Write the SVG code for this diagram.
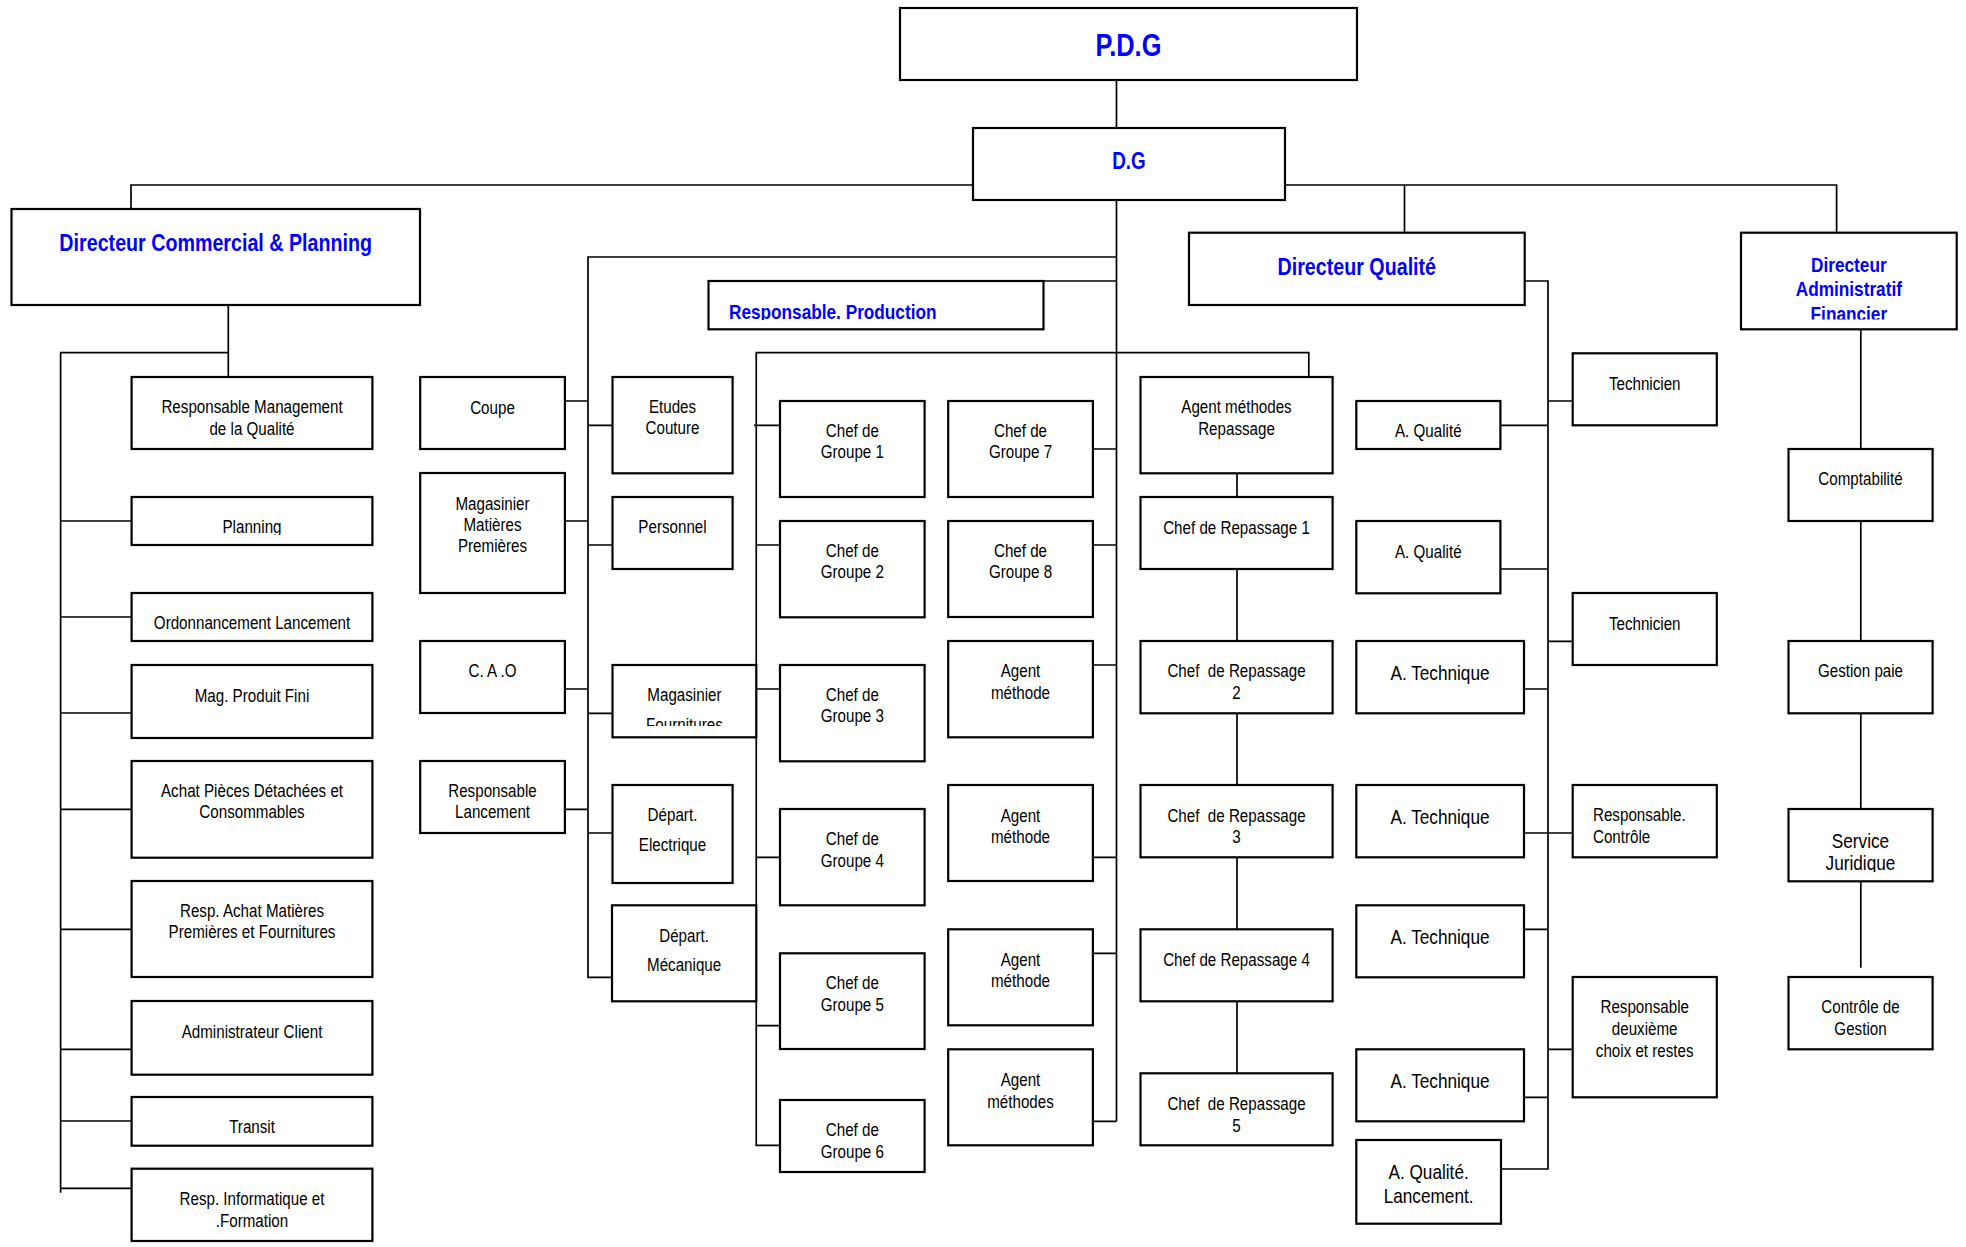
<svg xmlns="http://www.w3.org/2000/svg" width="1966" height="1247" viewBox="0 0 1966 1247">
<style>
.box{fill:#fff;stroke:#000;stroke-width:2.2}
.ln{fill:none;stroke:#000;stroke-width:1.7}
text{font-family:"Liberation Sans",Arial,sans-serif;fill:#000;font-size:18.5px;text-anchor:middle;transform:scaleX(0.82);transform-box:fill-box;transform-origin:center}
text.blue{fill:#0000ff;font-weight:bold}
text.f31{font-size:31px}
text.f23{font-size:23px}
text.f24{font-size:24px}
text.f21{font-size:21px}
text.st{text-anchor:start;transform-origin:left center}
</style>
<defs>
<clipPath id="cRP"><rect x="708" y="281" width="336" height="39"/></clipPath>
<clipPath id="cDAF"><rect x="1741" y="232" width="216" height="87.5"/></clipPath>
<clipPath id="cPlan"><rect x="131" y="497" width="242" height="38"/></clipPath>
<clipPath id="cMF"><rect x="612" y="665" width="145" height="61"/></clipPath>
<clipPath id="cSJ"><rect x="1788" y="809" width="145" height="63"/></clipPath>
</defs>
<rect width="1966" height="1247" fill="#fff"/>
<g id="connectors">
<path class="ln" d="M1116.5 80V128 M1116.5 200V1121.3"/>
<path class="ln" d="M131 209V185H973 M1285 185H1836.6V232.7 M1404.5 185V232.7"/>
<path class="ln" d="M228.3 305V377 M60.6 1192.7V352.7H228.3 M60.6 521H131.6 M60.6 617H131.6 M60.6 713H131.6 M60.6 809.3H131.6 M60.6 929.3H131.6 M60.6 1049.3H131.6 M60.6 1121H131.6 M60.6 1188.3H131.6"/>
<path class="ln" d="M1116.5 257H588V977.3H612 M564.9 401H588 M564.9 521H588 M564.9 689H588 M564.9 809.3H588 M588 425.3H612.5 M588 545H612.5 M588 713.3H612.5 M588 833H612.5"/>
<path class="ln" d="M1043.5 281H1116.5"/>
<path class="ln" d="M1308.8 377V352.7H756.25V1145.3H780 M754 425.3H780 M756.25 545H780 M756.25 689H780 M756.25 857.3H780 M756.25 1025.7H780"/>
<path class="ln" d="M1092.9 449H1116.5 M1092.9 545H1116.5 M1092.9 665H1116.5 M1092.9 857.3H1116.5 M1092.9 953.3H1116.5 M1092.9 1121.3H1116.5"/>
<path class="ln" d="M1237 473.3V497 M1237 569V641 M1237 713.3V785 M1237 857.3V929.3 M1237 1001.3V1073.3"/>
<path class="ln" d="M1524.7 281H1548V1169H1501 M1500.4 425.3H1548 M1500.4 569H1548 M1524 689H1548 M1524 833H1572.7 M1524 929.3H1548 M1524 1097.3H1548 M1548 401H1572.7 M1548 641.3H1572.7 M1548 1049.3H1572.7"/>
<path class="ln" d="M1860.8 329.3V449 M1860.8 521V641 M1860.8 713.3V809 M1860.8 881.3V967.7"/>
</g>
<g id="pdg"><rect class="box" x="900" y="8" width="457" height="72"/><text class="blue f31" x="1128.5" y="56.5">P.D.G</text></g>
<g id="dg"><rect class="box" x="973" y="128" width="312" height="72"/><text class="blue f23" x="1129" y="169.3">D.G</text></g>
<g id="dir-commercial"><rect class="box" x="11.5" y="209" width="408.5" height="96"/><text class="blue f24" x="215.7" y="250.7">Directeur Commercial &amp; Planning</text></g>
<g id="dir-qualite"><rect class="box" x="1189" y="232.7" width="335.7" height="72.3"/><text class="blue f24" x="1356.8" y="275">Directeur Qualité</text></g>
<g id="daf"><rect class="box" x="1741" y="232.7" width="215.7" height="96.6"/><g clip-path="url(#cDAF)"><text class="blue f21" x="1848.8" y="271.7">Directeur</text><text class="blue f21" x="1848.8" y="296">Administratif</text><text class="blue f21" x="1848.8" y="321">Financier</text></g></g>
<g id="resp-production"><rect class="box" x="708.5" y="281" width="335" height="48.3"/><g clip-path="url(#cRP)"><text class="blue f21 st" x="729" y="319">Responsable. Production</text></g></g>
<g id="rmq"><rect class="box" x="131.6" y="377" width="240.8" height="72"/><text x="252" y="413.3">Responsable Management</text><text x="252" y="435">de la Qualité</text></g>
<g id="planning"><rect class="box" x="131.6" y="497" width="240.8" height="48"/><g clip-path="url(#cPlan)"><text x="252" y="533.3">Planning</text></g></g>
<g id="ordonnancement"><rect class="box" x="131.6" y="593" width="240.8" height="48"/><text x="252" y="628.7">Ordonnancement Lancement</text></g>
<g id="mag-produit-fini"><rect class="box" x="131.6" y="665" width="240.8" height="73"/><text x="252" y="701.7">Mag. Produit Fini</text></g>
<g id="achat-pieces"><rect class="box" x="131.6" y="761" width="240.8" height="96.7"/><text x="252" y="796.7">Achat Pièces Détachées et</text><text x="252" y="818.3">Consommables</text></g>
<g id="resp-achat"><rect class="box" x="131.6" y="881" width="240.8" height="96"/><text x="252" y="916.7">Resp. Achat Matières</text><text x="252" y="938.3">Premières et Fournitures</text></g>
<g id="admin-client"><rect class="box" x="131.6" y="1001" width="240.8" height="73.7"/><text x="252" y="1037.7">Administrateur Client</text></g>
<g id="transit"><rect class="box" x="131.6" y="1097" width="240.8" height="48.7"/><text x="252" y="1133.3">Transit</text></g>
<g id="resp-info"><rect class="box" x="131.6" y="1168.7" width="240.8" height="72.3"/><text x="252" y="1205">Resp. Informatique et</text><text x="252" y="1226.7">.Formation</text></g>
<g id="coupe"><rect class="box" x="420.2" y="377" width="144.7" height="72"/><text x="492.5" y="414">Coupe</text></g>
<g id="mag-mp"><rect class="box" x="420.2" y="473" width="144.7" height="120"/><text x="492.5" y="510">Magasinier</text><text x="492.5" y="530.7">Matières</text><text x="492.5" y="552.3">Premières</text></g>
<g id="cao"><rect class="box" x="420.2" y="641" width="144.7" height="72"/><text x="492.5" y="677.3">C. A .O</text></g>
<g id="resp-lancement"><rect class="box" x="420.2" y="761" width="144.7" height="72"/><text x="492.5" y="796.7">Responsable</text><text x="492.5" y="818.3">Lancement</text></g>
<g id="etudes-couture"><rect class="box" x="612.5" y="377" width="120.1" height="96.3"/><text x="672.5" y="412.7">Etudes</text><text x="672.5" y="434.3">Couture</text></g>
<g id="personnel"><rect class="box" x="612.5" y="497" width="120.1" height="72"/><text x="672.5" y="533.3">Personnel</text></g>
<g id="mag-fournitures"><rect class="box" x="612.5" y="665" width="143.75" height="72.3"/><g clip-path="url(#cMF)"><text x="684.4" y="700.7">Magasinier</text><text x="684.4" y="730.7">Fournitures</text></g></g>
<g id="depart-elec"><rect class="box" x="612.5" y="785" width="120.1" height="98"/><text x="672.5" y="821">Départ.</text><text x="672.5" y="850.7">Electrique</text></g>
<g id="depart-meca"><rect class="box" x="612" y="905.3" width="144.25" height="96"/><text x="684.1" y="941.7">Départ.</text><text x="684.1" y="970.7">Mécanique</text></g>
<g id="cg1"><rect class="box" x="780" y="401" width="144.6" height="96"/><text x="852.3" y="436.7">Chef de</text><text x="852.3" y="458.3">Groupe 1</text></g>
<g id="cg2"><rect class="box" x="780" y="521" width="144.6" height="96.3"/><text x="852.3" y="556.7">Chef de</text><text x="852.3" y="578.3">Groupe 2</text></g>
<g id="cg3"><rect class="box" x="780" y="665" width="144.6" height="96.3"/><text x="852.3" y="700.7">Chef de</text><text x="852.3" y="722.3">Groupe 3</text></g>
<g id="cg4"><rect class="box" x="780" y="809" width="144.6" height="96.3"/><text x="852.3" y="845">Chef de</text><text x="852.3" y="866.7">Groupe 4</text></g>
<g id="cg5"><rect class="box" x="780" y="953.3" width="144.6" height="95.7"/><text x="852.3" y="989">Chef de</text><text x="852.3" y="1010.7">Groupe 5</text></g>
<g id="cg6"><rect class="box" x="780" y="1100" width="144.6" height="72"/><text x="852.3" y="1136">Chef de</text><text x="852.3" y="1157.7">Groupe 6</text></g>
<g id="cg7"><rect class="box" x="948.2" y="401" width="144.7" height="96"/><text x="1020.5" y="436.7">Chef de</text><text x="1020.5" y="458.3">Groupe 7</text></g>
<g id="cg8"><rect class="box" x="948.2" y="521" width="144.7" height="96"/><text x="1020.5" y="556.7">Chef de</text><text x="1020.5" y="578.3">Groupe 8</text></g>
<g id="agent-methode-1"><rect class="box" x="948.2" y="641" width="144.7" height="96.3"/><text x="1020.5" y="677.3">Agent</text><text x="1020.5" y="699">méthode</text></g>
<g id="agent-methode-2"><rect class="box" x="948.2" y="785" width="144.7" height="96"/><text x="1020.5" y="821.7">Agent</text><text x="1020.5" y="843.3">méthode</text></g>
<g id="agent-methode-3"><rect class="box" x="948.2" y="929.3" width="144.7" height="96"/><text x="1020.5" y="965.7">Agent</text><text x="1020.5" y="987.3">méthode</text></g>
<g id="agent-methodes"><rect class="box" x="948.2" y="1049.3" width="144.7" height="96"/><text x="1020.5" y="1086">Agent</text><text x="1020.5" y="1107.7">méthodes</text></g>
<g id="agent-repassage"><rect class="box" x="1140.5" y="377" width="192.1" height="96.3"/><text x="1236.5" y="413.3">Agent méthodes</text><text x="1236.5" y="435">Repassage</text></g>
<g id="cr1"><rect class="box" x="1140.5" y="497" width="192.1" height="72"/><text x="1236.5" y="534.3">Chef de Repassage 1</text></g>
<g id="cr2"><rect class="box" x="1140.5" y="641" width="192.1" height="72.3"/><text x="1236.5" y="677.3" xml:space="preserve">Chef  de Repassage</text><text x="1236.5" y="699">2</text></g>
<g id="cr3"><rect class="box" x="1140.5" y="785" width="192.1" height="72.3"/><text x="1236.5" y="821.7" xml:space="preserve">Chef  de Repassage</text><text x="1236.5" y="843.3">3</text></g>
<g id="cr4"><rect class="box" x="1140.5" y="929.3" width="192.1" height="72"/><text x="1236.5" y="965.7">Chef de Repassage 4</text></g>
<g id="cr5"><rect class="box" x="1140.5" y="1073.3" width="192.1" height="72"/><text x="1236.5" y="1110" xml:space="preserve">Chef  de Repassage</text><text x="1236.5" y="1131.7">5</text></g>
<g id="aq1"><rect class="box" x="1356.3" y="401" width="144.1" height="48"/><text x="1428.3" y="436.7">A. Qualité</text></g>
<g id="aq2"><rect class="box" x="1356.3" y="521" width="144.1" height="72.3"/><text x="1428.3" y="558.3">A. Qualité</text></g>
<g id="at1"><rect class="box" x="1356.3" y="641" width="167.7" height="72.3"/><text class="f21" x="1440" y="680">A. Technique</text></g>
<g id="at2"><rect class="box" x="1356.3" y="785" width="167.7" height="72.3"/><text class="f21" x="1440" y="824">A. Technique</text></g>
<g id="at3"><rect class="box" x="1356.3" y="905.3" width="167.7" height="72"/><text class="f21" x="1440" y="944">A. Technique</text></g>
<g id="at4"><rect class="box" x="1356.3" y="1049.3" width="167.7" height="72"/><text class="f21" x="1440" y="1088.3">A. Technique</text></g>
<g id="aq-lancement"><rect class="box" x="1356.3" y="1140" width="144.7" height="83.7"/><text class="f21" x="1428.6" y="1179">A. Qualité.</text><text class="f21" x="1428.6" y="1203.3">Lancement.</text></g>
<g id="technicien-1"><rect class="box" x="1572.7" y="353.3" width="144.1" height="72"/><text x="1644.7" y="390">Technicien</text></g>
<g id="technicien-2"><rect class="box" x="1572.7" y="593" width="144.1" height="72"/><text x="1644.7" y="630">Technicien</text></g>
<g id="resp-controle"><rect class="box" x="1572.7" y="785" width="144.1" height="72.3"/><text class="st" x="1593" y="821">Responsable.</text><text class="st" x="1593" y="842.7">Contrôle</text></g>
<g id="resp-deuxieme-choix"><rect class="box" x="1572.7" y="977" width="144.1" height="120.3"/><text x="1644.7" y="1013.3">Responsable</text><text x="1644.7" y="1035">deuxième</text><text x="1644.7" y="1056.7">choix et restes</text></g>
<g id="comptabilite"><rect class="box" x="1788.5" y="449" width="144.1" height="72"/><text x="1860.5" y="485">Comptabilité</text></g>
<g id="gestion-paie"><rect class="box" x="1788.5" y="641" width="144.1" height="72.3"/><text x="1860.5" y="676.7">Gestion paie</text></g>
<g id="service-juridique"><rect class="box" x="1788.5" y="809" width="144.1" height="72.3"/><g clip-path="url(#cSJ)"><text class="f21" x="1860.5" y="848.3">Service</text><text class="f21" x="1860.5" y="870">Juridique</text></g></g>
<g id="controle-gestion"><rect class="box" x="1788.5" y="977" width="144.1" height="72.3"/><text x="1860.5" y="1013.3">Contrôle de</text><text x="1860.5" y="1035">Gestion</text></g>
</svg>
